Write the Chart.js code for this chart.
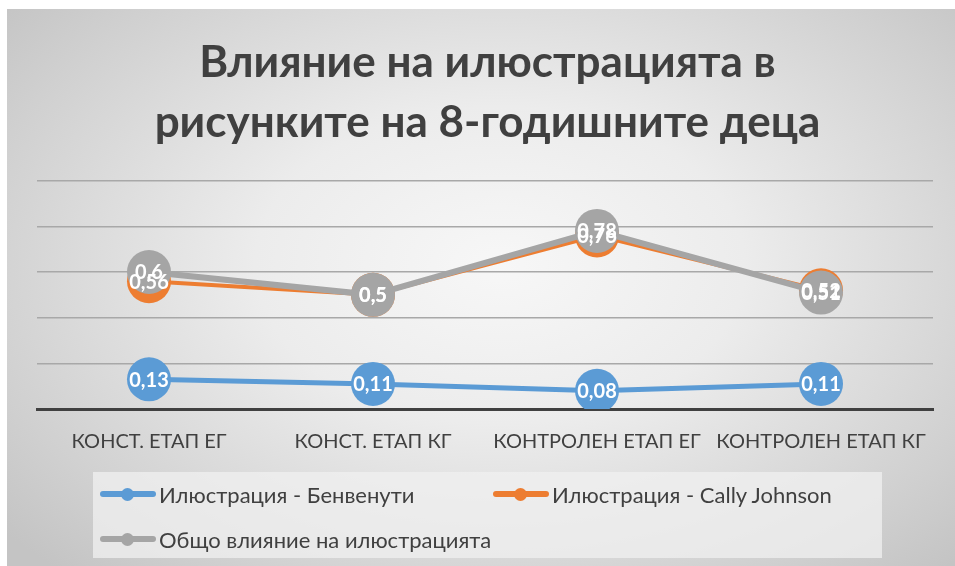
<!DOCTYPE html>
<html>
<head>
<meta charset="utf-8">
<script src="https://cdn.jsdelivr.net/npm/chart.js@4"></script>
<style>
  html, body { margin: 0; padding: 0; background: #fff; }
  #wrap {
    position: relative; width: 955px; height: 566px; overflow: hidden;
  }
  #bg {
    position: absolute; left: 7px; top: 9px; width: 948px; height: 557px;
    background: radial-gradient(ellipse 68% 75% at 52% 46%, #f7f7f7 0%, #ececec 38%, #d0d0d0 82%, #c4c4c4 100%);
  }
  canvas { position: absolute; left: 0; top: 0; }
  #legend {
    position: absolute; left: 93px; top: 472px; width: 789px; height: 86px;
    background: rgba(240,240,240,0.75);
    font-family: Lato, "Noto Sans", sans-serif; font-size: 22px; color: #404040;
  }
  .item { position: absolute; display: flex; align-items: center; height: 28px; white-space: nowrap; }
  .mark { position: relative; width: 56px; height: 13px; margin-right: 3px; }
  .mark .ln { position: absolute; left: 0; right: 0; top: 3.5px; height: 6px; border-radius: 3px; }
  .mark .dot { position: absolute; left: 21px; top: 0; width: 13px; height: 13px; border-radius: 50%; }
</style>
</head>
<body>
<div id="wrap">
  <div id="bg"></div>
  <canvas id="chart" width="955" height="566"></canvas>
  <div id="legend"></div>
</div>
<script>
const categories = ["КОНСТ. ЕТАП ЕГ", "КОНСТ. ЕТАП КГ", "КОНТРОЛЕН ЕТАП ЕГ", "КОНТРОЛЕН ЕТАП КГ"];
const seriesNames = ["Илюстрация - Бенвенути", "Илюстрация - Cally Johnson", "Общо влияние на илюстрацията"];
const benvenuti = [0.13, 0.11, 0.08, 0.11];
const callyJohnson = [0.56, 0.5, 0.76, 0.52];
const total = [0.6, 0.5, 0.78, 0.51];
const seriesColors = ["#5B9BD5", "#ED7D31", "#A5A5A5"];

const FONT = "Lato, 'Noto Sans', sans-serif";

function fmt(v) {
  return String(v).replace(".", ",");
}

// white value labels centred on each marker, drawn in dataset order
const valueLabels = {
  id: "valueLabels",
  afterDatasetsDraw(chart) {
    const ctx = chart.ctx;
    ctx.save();
    ctx.font = "bold 20px " + FONT;
    ctx.fillStyle = "#ffffff";
    ctx.textAlign = "center";
    ctx.textBaseline = "middle";
    chart.data.datasets.forEach((ds, i) => {
      const meta = chart.getDatasetMeta(i);
      meta.data.forEach((pt, j) => {
        ctx.fillText(fmt(ds.data[j]), pt.x, pt.y + 1);
      });
    });
    ctx.restore();
  },
};

const datasets = [benvenuti, callyJohnson, total].map((data, i) => ({
  label: seriesNames[i],
  data,
  borderColor: seriesColors[i],
  backgroundColor: seriesColors[i],
  borderWidth: i === 2 ? 6 : (i === 0 ? 5 : 4),
  pointRadius: 22,
  pointHoverRadius: 22,
  pointBorderWidth: 0,
  tension: 0,
  order: 2 - i,
}));

new Chart(document.getElementById("chart"), {
  type: "line",
  data: { labels: categories, datasets },
  options: {
    responsive: false,
    animation: false,
    layout: { padding: { left: 37, right: 17, top: 0, bottom: 0 } },
    plugins: {
      legend: { display: false },
      tooltip: { enabled: false },
      title: {
        display: true,
        text: ["Влияние на илюстрацията в", "рисунките на 8-годишните деца"],
        color: "#404040",
        font: { family: FONT, size: 44, weight: "bold", lineHeight: 1.36 },
        padding: { top: 33, bottom: 28 },
      },
    },
    scales: {
      x: {
        offset: true,
        grid: { display: false, drawTicks: false },
        border: { display: true, color: "#404040", width: 3 },
        ticks: { color: "#404040", font: { family: FONT, size: 20 }, padding: 21, maxRotation: 0 },
        afterFit(scale) { scale.height = 157; },
      },
      y: {
        min: 0,
        max: 1,
        ticks: { display: false, stepSize: 0.2 },
        grid: { color: "#a8a8a8", lineWidth: 1.5, drawTicks: false },
        border: { display: false },
      },
    },
  },
  plugins: [valueLabels],
});

const legendEl = document.getElementById("legend");
const legendPos = [[7, 8], [400, 8], [7, 53]];
seriesNames.forEach((name, i) => {
  const item = document.createElement("div");
  item.className = "item";
  item.style.left = legendPos[i][0] + "px";
  item.style.top = legendPos[i][1] + "px";
  item.innerHTML =
    '<span class="mark"><span class="ln" style="background:' + seriesColors[i] + '"></span>' +
    '<span class="dot" style="background:' + seriesColors[i] + '"></span></span>' +
    '<span>' + name + '</span>';
  legendEl.appendChild(item);
});
</script>
</body>
</html>
